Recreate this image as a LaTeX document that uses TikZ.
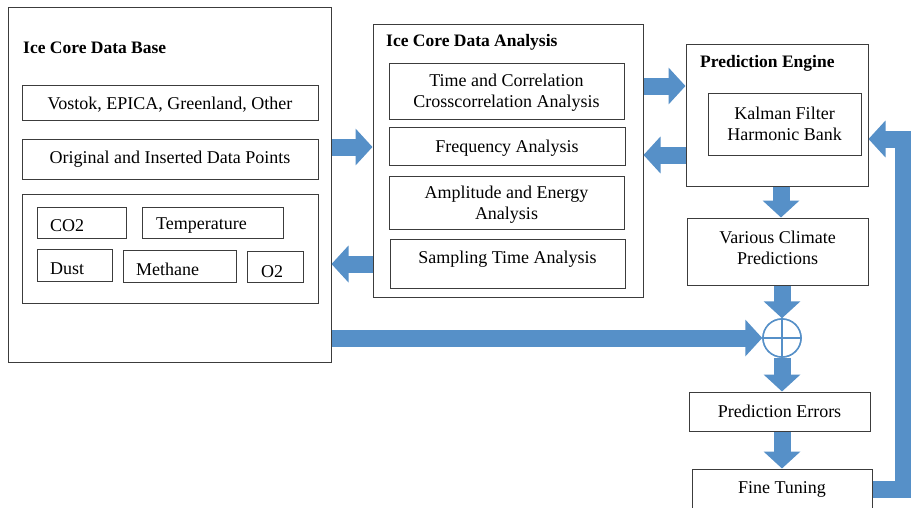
\documentclass[tikz,border=0pt]{standalone}
\usepackage{fontspec}
\setmainfont{Liberation Serif}
\usetikzlibrary{arrows.meta}
\definecolor{abl}{RGB}{86,144,200}
\definecolor{bline}{RGB}{60,60,60}
\begin{document}
\begin{tikzpicture}[x=1pt,y=-1pt,
  box/.style={draw=bline, line width=1pt, inner sep=0pt, fill=none},
  txt/.style={inner sep=0pt, yshift=-1.5pt, font=\fontsize{18}{21}\selectfont, align=center},
  ttl/.style={inner sep=0pt, anchor=west, font=\fontsize{17.5}{21}\selectfont\bfseries},
  barrow/.style={line width=17pt, draw=abl, -{Triangle[width=36pt,length=17pt]}},
]
\useasboundingbox (0,0) rectangle (911,507);
\clip (0,0) rectangle (911,507);
\fill[white] (0,0) rectangle (911,507);

% Ice Core Data Base
\node[box, minimum width=323pt, minimum height=355pt] (db) at (169.5,184.5) {};
\node[ttl] (dbt) at (23,48) {Ice Core Data Base};
\node[box, minimum width=296pt, minimum height=35pt] (vostok) at (170,102.5) {};
\node[txt] (vostokt) at (170,103) {Vostok, EPICA, Greenland, Other};
\node[box, minimum width=296pt, minimum height=40pt] (orig) at (170,159) {};
\node[txt] (origt) at (170,158) {Original and Inserted Data Points};
\node[box, minimum width=296pt, minimum height=109pt] (grp) at (170,248.5) {};
\node[box, minimum width=89pt, minimum height=31pt] (co2) at (81.5,222.5) {};
\node[txt, anchor=west] (co2t) at (50,224) {CO2};
\node[box, minimum width=141pt, minimum height=31pt] (temp) at (212.5,222.5) {};
\node[txt, anchor=west] (tempt) at (156,224) {Temperature};
\node[box, minimum width=75pt, minimum height=32pt] (dust) at (74.5,265) {};
\node[txt, anchor=west] (dustt) at (50,267) {Dust};
\node[box, minimum width=113pt, minimum height=32pt] (meth) at (179.5,266) {};
\node[txt, anchor=west] (metht) at (136,268) {Methane};
\node[box, minimum width=56pt, minimum height=31pt] (otwo) at (275,266.5) {};
\node[txt, anchor=west] (otwot) at (261,270) {O2};

% Ice Core Data Analysis
\node[box, minimum width=270pt, minimum height=273pt] (ana) at (508,160.5) {};
\node[ttl] (anat) at (386,42) {Ice Core Data Analysis};
\node[box, minimum width=235pt, minimum height=56pt] (tca) at (506.5,91) {};
\node[txt] (tcat) at (506.5,91.5) {Time and Correlation\\Crosscorrelation Analysis};
\node[box, minimum width=236pt, minimum height=38pt] (freq) at (507,146) {};
\node[txt] (freqt) at (507,147) {Frequency Analysis};
\node[box, minimum width=235pt, minimum height=53pt] (amp) at (506.5,202.5) {};
\node[txt] (ampt) at (506.5,203) {Amplitude and Energy\\Analysis};
\node[box, minimum width=235pt, minimum height=49pt] (samp) at (507.5,263.5) {};
\node[txt] (sampt) at (507.5,258) {Sampling Time Analysis};

% Prediction Engine
\node[box, minimum width=182pt, minimum height=142pt] (pe) at (777,115) {};
\node[ttl] (pet) at (700,63) {Prediction Engine};
\node[box, minimum width=153pt, minimum height=62pt] (kal) at (784.5,124) {};
\node[txt] (kalt) at (784.5,122) {Kalman Filter\\Harmonic Bank};
\node[box, minimum width=181pt, minimum height=67pt] (vcp) at (777.5,251.5) {};
\node[txt] (vcpt) at (777.5,246) {Various Climate\\Predictions};
\node[box, minimum width=181pt, minimum height=39pt] (perr) at (779.5,411.5) {};
\node[txt] (perrt) at (779.5,410) {Prediction Errors};
\node[box, minimum width=180pt, minimum height=51pt] (fine) at (782,494.5) {};
\node[txt] (finet) at (782,488) {Fine Tuning};
\node[circle, draw=abl, line width=1.5pt, fill=white, minimum size=38pt, inner sep=0pt] (sum) at (782,338) {};

% block arrows
\draw[barrow] (db.east |- 0,147) -- (ana.west |- 0,147);
\draw[barrow] (ana.west |- 0,264) -- (db.east |- 0,264);
\draw[barrow] (ana.east |- 0,86) -- (pe.west |- 0,86);
\draw[barrow] (pe.west |- 0,155) -- (ana.east |- 0,155);
\draw[barrow] (pe.south -| 781,0) -- (vcp.north -| 781,0);
\draw[barrow] (vcp.south -| sum.north) -- (sum.north);
\draw[barrow] (db.east |- sum.west) -- (sum.west);
\draw[barrow] (sum.south) -- (perr.north -| sum.south);
\draw[barrow] (perr.south -| sum.south) -- (fine.north -| sum.south);
\coordinate (fb1) at (903,489);
\coordinate (fb2) at (903,139);
\draw[barrow, line join=miter] (fine.east |- fb1) -- (fb1) -- (fb2) -- (pe.east |- fb2);

% summing junction
\node[circle, draw=abl, line width=1.5pt, fill=white, minimum size=38pt, inner sep=0pt] at (sum) {};
\draw[abl, line width=1.5pt] (sum.north) -- (sum.south) (sum.west) -- (sum.east);
\end{tikzpicture}
\end{document}
